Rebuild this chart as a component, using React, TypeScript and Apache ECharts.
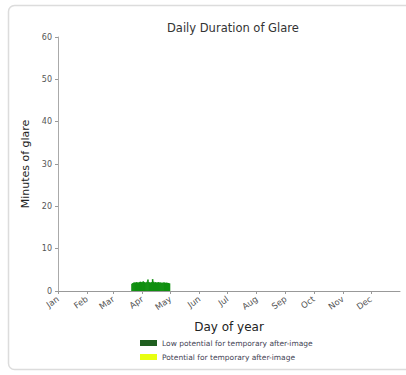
import React, { useEffect, useRef } from "react";
import * as echarts from "echarts";

const monthNames = ["Jan", "Feb", "Mar", "Apr", "May", "Jun", "Jul", "Aug", "Sep", "Oct", "Nov", "Dec"];
const monthStartDays = [0, 31, 59, 90, 120, 151, 181, 212, 243, 273, 304, 334];
const yTicks = [0, 10, 20, 30, 40, 50, 60];

const glareDays = [
  79, 80, 81, 82, 83, 84, 85, 86, 87, 88, 89, 90, 91, 92, 93, 94, 95, 96, 97, 98, 99,
  100, 101, 102, 103, 104, 105, 106, 107, 108, 109, 110, 111, 112, 113, 114, 115, 116, 117, 118, 119,
];
const lowPotentialMinutes = [
  1.7, 1.9, 2.0, 2.0, 2.0, 2.1, 2.0, 2.0, 2.1, 2.2, 2.1, 2.1, 2.3, 2.1, 2.0, 2.0, 2.2, 2.7, 2.1, 2.0, 2.0,
  2.1, 2.8, 2.2, 2.0, 2.1, 2.0, 2.0, 2.1, 2.0, 2.0, 2.0, 1.9, 2.0, 2.0, 2.0, 1.9, 2.0, 1.9, 1.9, 1.8,
];
const potentialMinutes: number[] = [];

const seriesNames = ["Low potential for temporary after-image", "Potential for temporary after-image"];

export default function App() {
  const ref = useRef<HTMLDivElement>(null);
  useEffect(() => {
    if (!ref.current) return;
    const chart = echarts.init(ref.current, undefined, { renderer: "svg" });
    const font = "DejaVu Sans";
    chart.setOption({
      animation: false,
      textStyle: { fontFamily: font },
      graphic: [
        {
          type: "rect",
          shape: { x: 8.5, y: 5.5, width: 430, height: 364, r: 6 },
          style: { fill: "none", stroke: "#dcdcdc", lineWidth: 1.5 },
          silent: true,
        },
      ],
      title: {
        text: "Daily Duration of Glare",
        left: 162,
        top: 17,
        textStyle: { fontSize: 11.5, fontWeight: "normal", color: "#333", fontFamily: font },
      },
      legend: {
        orient: "vertical",
        left: 135,
        top: 334,
        itemWidth: 17,
        itemHeight: 6,
        itemGap: 6,
        icon: "rect",
        textStyle: { fontSize: 7.5, color: "#445", fontFamily: font },
        data: [
          { name: seriesNames[0], itemStyle: { color: "#1f5f1f" } },
          { name: seriesNames[1], itemStyle: { color: "#e8ff10" } },
        ],
      },
      grid: { left: 58, right: 6, top: 37, bottom: 84 },
      xAxis: {
        type: "value",
        min: 0,
        max: 365,
        name: "Day of year",
        nameLocation: "middle",
        nameGap: 30,
        nameTextStyle: { fontSize: 12, color: "#222", fontFamily: font },
        axisLine: { lineStyle: { color: "#999", width: 1 } },
        axisTick: { show: true, customValues: monthStartDays, length: 3, lineStyle: { color: "#999" } },
        axisLabel: {
          customValues: monthStartDays,
          rotate: 35,
          fontSize: 8.5,
          color: "#555",
          margin: 7,
          formatter: (v: number) => monthNames[monthStartDays.indexOf(Math.round(v))] ?? "",
        },
        splitLine: { show: false },
      },
      yAxis: {
        type: "value",
        min: yTicks[0],
        max: yTicks[yTicks.length - 1],
        interval: 10,
        name: "Minutes of glare",
        nameLocation: "middle",
        nameGap: 25,
        nameTextStyle: { fontSize: 11, color: "#222", fontFamily: font },
        axisLine: { show: true, lineStyle: { color: "#aaa", width: 1 } },
        axisTick: { show: true, length: 3, lineStyle: { color: "#999" } },
        axisLabel: { fontSize: 8, color: "#555", margin: 6 },
        splitLine: { show: false },
      },
      series: [
        {
          name: seriesNames[0],
          type: "bar",
          barWidth: 1.6,
          barGap: "-100%",
          itemStyle: { color: "#0f8f0f" },
          data: glareDays.map((d, i) => [d, lowPotentialMinutes[i]]),
        },
        {
          name: seriesNames[1],
          type: "bar",
          barWidth: 1.6,
          barGap: "-100%",
          itemStyle: { color: "#e8ff10" },
          data: potentialMinutes.map((v, i) => [glareDays[i], v]),
        },
      ],
    });
    return () => chart.dispose();
  }, []);
  return (
    <div
      ref={ref}
      style={{ position: "absolute", left: 0, top: 0, width: 406, height: 375, background: "#fff" }}
    />
  );
}
